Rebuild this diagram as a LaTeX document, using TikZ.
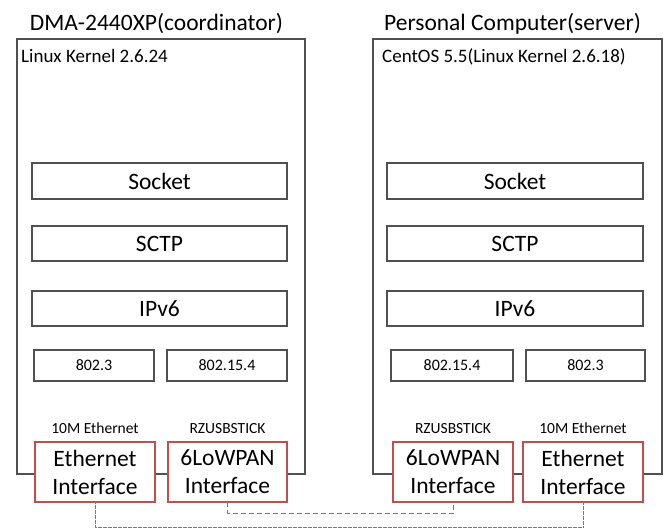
\documentclass[tikz,border=0pt]{standalone}
\usepackage{fontspec}
\setmainfont{Carlito}
\definecolor{boxgray}{RGB}{80,80,80}
\definecolor{ifred}{RGB}{192,80,77}
\definecolor{linkblue}{RGB}{79,129,189}
\begin{document}
\begin{tikzpicture}[x=1pt,y=-1pt,
  outerbox/.style={draw=boxgray,line width=1.3pt,inner sep=0pt,outer sep=0pt,minimum height=435pt},
  layerbox/.style={draw=boxgray,line width=1.6pt,fill=white,inner sep=0pt,outer sep=0pt,font=\fontsize{23.5}{28}\selectfont},
  macbox/.style={draw=boxgray,line width=1.6pt,fill=white,inner sep=0pt,outer sep=0pt,minimum height=31pt,font=\fontsize{16}{19}\selectfont},
  ifbox/.style={draw=ifred,line width=1.8pt,fill=white,inner sep=0pt,outer sep=0pt,minimum height=60pt,minimum width=120pt,align=center,font=\fontsize{23.5}{28}\selectfont},
  titletext/.style={anchor=base,inner sep=0pt,font=\fontsize{23.5}{28}\selectfont},
  kerneltext/.style={anchor=base west,inner sep=0pt,font=\fontsize{19}{22}\selectfont},
  hwtext/.style={anchor=base,inner sep=0pt,font=\fontsize{15.5}{18}\selectfont},
  ethlink/.style={draw=linkblue,line width=1pt,dash pattern=on 2pt off 0.5pt},
  lowlink/.style={draw=linkblue,line width=1pt,dash pattern=on 5pt off 3pt}]
\useasboundingbox (0,0) rectangle (668,528);
\fill[white] (0,0) rectangle (668,528);

% outer boxes
\node[outerbox,minimum width=288pt] (outerL) at (161,256.5) {};
\node[outerbox,minimum width=289pt] (outerR) at (517.5,256.5) {};

% titles
\node[titletext] (titleL) at (156.5,30) {DMA-2440XP(coordinator)};
\node[titletext] (titleR) at (512.5,30) {Personal Computer(server)};
\node[kerneltext] (kernL) at (21,62) {Linux Kernel 2.6.24};
\node[kerneltext] (kernR) at (382,62) {CentOS 5.5(Linux Kernel 2.6.18)};

% layers left
\node[layerbox,minimum width=255pt,minimum height=36pt] (sockL) at (159.5,181) {Socket};
\node[layerbox,minimum width=255pt,minimum height=35pt] (sctpL) at (159.5,243.5) {SCTP};
\node[layerbox,minimum width=255pt,minimum height=35pt] (ipL) at (159.5,308.5) {IPv6};
\node[macbox,minimum width=120pt] (ethmacL) at (94,365.5) {802.3};
\node[macbox,minimum width=120pt] (lowmacL) at (227,365.5) {802.15.4};

% layers right
\node[layerbox,minimum width=256pt,minimum height=36pt] (sockR) at (515,181) {Socket};
\node[layerbox,minimum width=256pt,minimum height=35pt] (sctpR) at (515,243.5) {SCTP};
\node[layerbox,minimum width=256pt,minimum height=35pt] (ipR) at (515,308.5) {IPv6};
\node[macbox,minimum width=122pt] (lowmacR) at (452,365.5) {802.15.4};
\node[macbox,minimum width=119pt] (ethmacR) at (585.5,365.5) {802.3};

% hardware labels
\node[hwtext] (hwEthL) at (95,433) {10M Ethernet};
\node[hwtext] (hwLowL) at (227.5,433) {RZUSBSTICK};
\node[hwtext] (hwLowR) at (453,433) {RZUSBSTICK};
\node[hwtext] (hwEthR) at (583,433) {10M Ethernet};

% interface boxes
\node[ifbox] (ethL) at (95,472) {Ethernet\\Interface};
\node[ifbox,minimum width=119pt] (lowL) at (227.5,472) {6LoWPAN\\Interface};
\node[ifbox] (lowR) at (453,472) {6LoWPAN\\Interface};
\node[ifbox] (ethR) at (583,472) {Ethernet\\Interface};

% links
\draw[ethlink] (ethL.south) -- ++(0,25) -| (ethR.south);
\draw[lowlink] (lowL.south) -- ++(0,11) -| (lowR.south);
\end{tikzpicture}
\end{document}
